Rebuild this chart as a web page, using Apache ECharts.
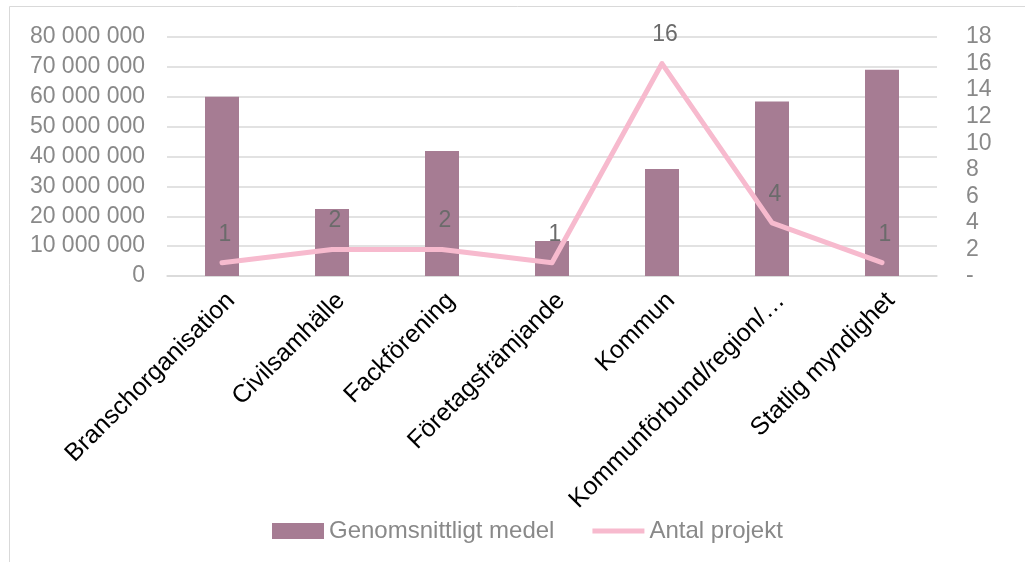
<!DOCTYPE html>
<html>
<head>
<meta charset="utf-8">
<script src="https://cdn.jsdelivr.net/npm/echarts@6/dist/echarts.min.js"></script>
<style>
  html, body { margin: 0; padding: 0; background: #fff; }
  #chart { width: 1025px; height: 562px; }
</style>
</head>
<body>
<div id="chart"></div>
<script>
// Organisation types along the category axis
const categories = [
  'Branschorganisation',
  'Civilsamhälle',
  'Fackförening',
  'Företagsfrämjande',
  'Kommun',
  'Kommunförbund/region/…',
  'Statlig myndighet'
];
// Average funding per project (SEK)
const averageFunding = [60000000, 22400000, 41800000, 11700000, 35800000, 58400000, 69000000];
// Number of projects
const projectCount = [1, 2, 2, 1, 16, 4, 1];

const FONT = '"Liberation Sans", Arial, sans-serif';
const BAR_COLOR = '#a67c93';
const LINE_COLOR = '#f7bace';

const chart = echarts.init(document.getElementById('chart'), null, { renderer: 'canvas' });

// thousands grouped with spaces, e.g. 80 000 000
function spaced(v) {
  return String(Math.round(v)).replace(/\B(?=(\d{3})+(?!\d))/g, ' ');
}

chart.setOption({
  animation: false,
  backgroundColor: '#ffffff',
  textStyle: { fontFamily: FONT },
  graphic: [{
    type: 'rect',
    shape: { x: 9.5, y: 6.5, width: 1100, height: 700 },
    style: { fill: 'none', stroke: '#d9d9d9', lineWidth: 1 },
    silent: true,
    z: -1
  }],
  grid: { left: 167, right: 88, top: 37, bottom: 286, containLabel: false },
  legend: {
    bottom: 14,
    left: 267,
    itemWidth: 52,
    itemHeight: 16,
    itemGap: 38,
    textStyle: { fontFamily: FONT, fontSize: 24, color: '#898989' },
    data: [
      { name: 'Genomsnittligt medel', icon: 'rect' },
      { name: 'Antal projekt', icon: 'path://M0,0 L52,0 L52,5 L0,5 Z' }
    ]
  },
  xAxis: {
    type: 'category',
    data: categories,
    axisLine: { show: true, lineStyle: { color: '#d9d9d9', width: 1.5 } },
    axisTick: { show: false },
    axisLabel: {
      rotate: 45,
      interval: 0,
      margin: 12,
      verticalAlign: 'top',
      fontFamily: FONT,
      fontSize: 25,
      color: '#000000'
    }
  },
  yAxis: [
    {
      type: 'value',
      min: 0,
      max: 80000000,
      interval: 10000000,
      axisLine: { show: false },
      axisTick: { show: false },
      splitLine: { lineStyle: { color: '#d9d9d9', width: 1.5 } },
      axisLabel: {
        margin: 22,
        fontFamily: FONT,
        fontSize: 23,
        color: '#898989',
        formatter: spaced
      }
    },
    {
      type: 'value',
      min: 0,
      max: 18,
      interval: 2,
      axisLine: { show: false },
      axisTick: { show: false },
      splitLine: { show: false },
      axisLabel: {
        margin: 29,
        fontFamily: FONT,
        fontSize: 23,
        color: '#898989',
        formatter: v => (v === 0 ? '-' : String(v))
      }
    }
  ],
  series: [
    {
      name: 'Genomsnittligt medel',
      type: 'bar',
      yAxisIndex: 0,
      data: averageFunding,
      barWidth: 34,
      itemStyle: { color: BAR_COLOR }
    },
    {
      name: 'Antal projekt',
      type: 'line',
      yAxisIndex: 1,
      data: projectCount,
      symbol: 'circle',
      symbolSize: 2,
      itemStyle: { color: LINE_COLOR },
      lineStyle: { color: LINE_COLOR, width: 5, cap: 'round', join: 'round' },
      label: {
        show: true,
        position: 'top',
        distance: 16,
        offset: [3, 0],
        fontFamily: FONT,
        fontSize: 23,
        color: '#6b6b6b'
      },
      z: 3
    }
  ]
});
</script>
</body>
</html>
